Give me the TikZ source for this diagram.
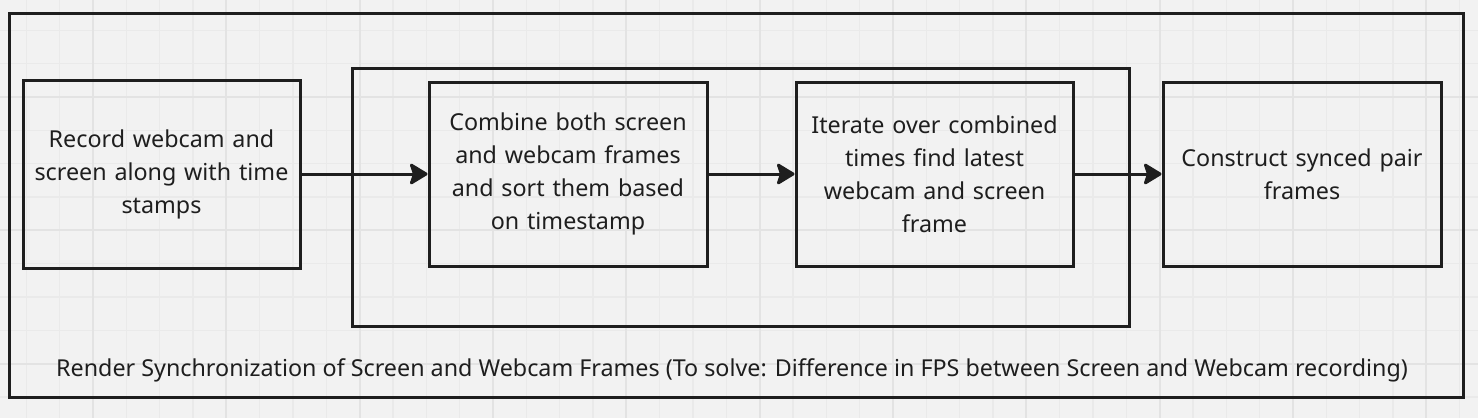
\documentclass[tikz,border=0pt]{standalone}
\usepackage{fontspec}
\setmainfont{Noto Sans}
\usetikzlibrary{arrows.meta}
\definecolor{bg}{HTML}{F2F2F2}
\definecolor{gridminor}{HTML}{EAEAEA}
\definecolor{gridmajor}{HTML}{E3E3E3}
\definecolor{ink}{HTML}{1E1E1E}
\tikzset{
  box/.style={draw=ink, line width=3pt, text=ink, align=center, inner sep=0pt,
    font=\fontsize{23.3}{33}\selectfont},
  frame/.style={draw=ink, line width=3pt},
  conn/.style={draw=ink, line width=3pt, -{Stealth[length=20pt,width=24pt,inset=4pt,round]}},
}
\begin{document}
\begin{tikzpicture}[x=1pt,y=-1pt]
\fill[bg] (0,0) rectangle (1478,418);
\useasboundingbox (0,0) rectangle (1478,418);
% grid
\foreach \i in {-2,...,41} {
  \pgfmathsetmacro\xx{93+\i*33.333}
  \draw[gridminor, line width=1.2pt] (\xx,0) -- (\xx,418);
}
\foreach \i in {-2,...,10} {
  \pgfmathsetmacro\yy{97+\i*33.333}
  \draw[gridminor, line width=1.2pt] (0,\yy) -- (1478,\yy);
}
\foreach \i in {-1,...,10} {
  \pgfmathsetmacro\xx{93+\i*133.333}
  \draw[gridmajor, line width=2pt] (\xx,0) -- (\xx,418);
}
\foreach \i in {-1,...,2} {
  \pgfmathsetmacro\yy{97+\i*133.333}
  \draw[gridmajor, line width=2pt] (0,\yy) -- (1478,\yy);
}
% outer frame and group
\draw[frame] (9,13) rectangle (1463,397);
\draw[frame] (352,68) rectangle (1129,326);
\node[text=ink, font=\fontsize{23.3}{33}\selectfont, anchor=center] (cap) at (732,370)
  {Render Synchronization of Screen and Webcam Frames (To solve: Difference in FPS between Screen and Webcam recording)};
% boxes
\node[box, minimum width=277pt, minimum height=188pt, text width=262pt] (b1) at (161.5,174)
  {Record webcam and\\screen along with time\\stamps};
\node[box, minimum width=278pt, minimum height=184pt, text width=262pt] (b2) at (568,174)
  {Combine both screen\\and webcam frames\\and sort them based\\on timestamp};
\node[box, minimum width=277pt, minimum height=184pt, text width=262pt] (b3) at (934.5,174)
  {Iterate over combined\\times find latest\\webcam and screen\\frame};
\node[box, minimum width=278pt, minimum height=184pt, text width=262pt] (b4) at (1302,174)
  {Construct synced pair\\frames};
% connectors
\draw[conn] (b1.east) -- (b2.west);
\draw[conn] (b2.east) -- (b3.west);
\draw[conn] (b3.east) -- (b4.west);
\end{tikzpicture}
\end{document}
